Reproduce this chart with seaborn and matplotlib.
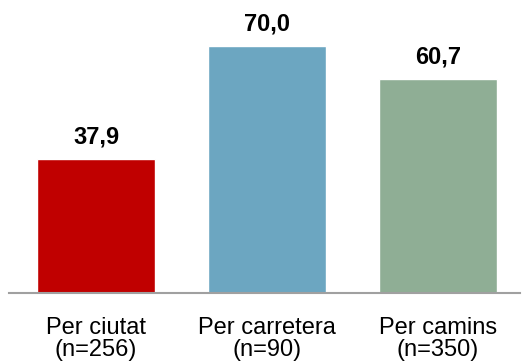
import matplotlib
matplotlib.use('Agg')
import matplotlib.pyplot as plt
import seaborn as sns
import pandas as pd

categories = ['Per ciutat\n(n=256)', 'Per carretera\n(n=90)', 'Per camins\n(n=350)']
values = [37.9, 70.0, 60.7]
bar_colors = ['#C00000', '#6CA6C1', '#8FAE95']

sns.set_theme(style='white')
plt.rcParams['font.family'] = ['Liberation Sans', 'DejaVu Sans']

df = pd.DataFrame({'cat': categories, 'val': values})

fig = plt.figure(figsize=(5.22, 3.64), dpi=100)
ax = fig.add_axes([9 / 522, 71 / 364, 511 / 522, 293 / 364])
sns.barplot(data=df, x='cat', y='val', hue='cat', palette=bar_colors,
            width=0.69, saturation=1, legend=False, ax=ax)

for i, v in enumerate(values):
    ax.text(i, v + 3.0, f'{v:.1f}'.replace('.', ','), ha='center', va='bottom',
            fontsize=17, fontweight='bold', color='black')

ax.set_xlim(-0.51, 2.48)
ax.set_ylim(0, 83)
ax.set_xlabel('')
ax.set_ylabel('')
ax.set_yticks([])
ax.tick_params(axis='x', length=0, pad=17, labelsize=17, colors='black')
for lbl in ax.get_xticklabels():
    lbl.set_linespacing(1.0)
for s in ['top', 'right', 'left']:
    ax.spines[s].set_visible(False)
ax.spines['bottom'].set_color('#A0A0A0')
ax.spines['bottom'].set_linewidth(1.5)

fig.savefig('out.png', dpi=100, facecolor='white')
